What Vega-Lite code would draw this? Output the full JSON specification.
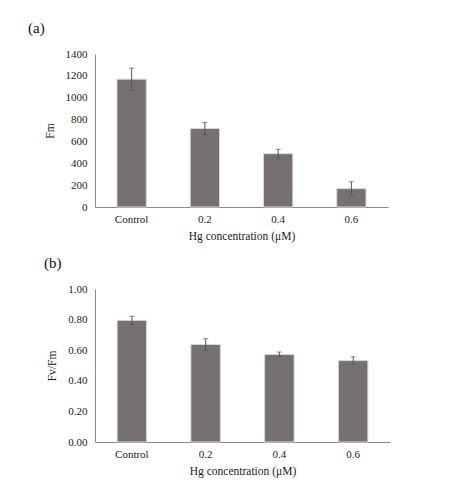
{
  "$schema": "https://vega.github.io/schema/vega-lite/v6.json",
  "padding": {"left": 28, "top": 21, "right": 5, "bottom": 5},
  "spacing": 14,
  "config": {
    "font": "Liberation Serif",
    "view": {"stroke": null},
    "axis": {
      "labelFont": "Liberation Serif",
      "titleFont": "Liberation Serif",
      "labelFontSize": 11,
      "titleFontSize": 11.5,
      "titleFontWeight": "normal",
      "labelColor": "#1a1a1a",
      "titleColor": "#1a1a1a",
      "domainColor": "#8a8a8a",
      "ticks": false,
      "grid": false,
      "labelOverlap": false
    },
    "title": {
      "font": "Liberation Serif",
      "fontSize": 15,
      "fontWeight": "normal",
      "color": "#111111",
      "anchor": "start",
      "frame": "group",
      "offset": 12
    }
  },
  "vconcat": [
    {
      "width": 293,
      "height": 153,
      "title": {"text": "(a)", "dx": -67},
      "data": {
        "values": [
          {"group": "Control", "value": 1170, "err": 100},
          {"group": "0.2", "value": 718, "err": 55},
          {"group": "0.4", "value": 488, "err": 40},
          {"group": "0.6", "value": 168, "err": 63}
        ]
      },
      "encoding": {
        "x": {
          "field": "group",
          "type": "nominal",
          "sort": ["Control", "0.2", "0.4", "0.6"],
          "scale": {"paddingInner": 0.6, "paddingOuter": 0.3},
          "axis": {"labelAngle": 0, "title": "Hg concentration (μM)", "labelPadding": 6, "titlePadding": 6}
        },
        "y": {
          "field": "value",
          "type": "quantitative",
          "scale": {"domain": [0, 1400]},
          "axis": {"title": "Fm", "values": [0, 200, 400, 600, 800, 1000, 1200, 1400], "format": "d", "labelPadding": 8, "titlePadding": 10}
        }
      },
      "layer": [
        {
          "mark": {"type": "bar", "color": "#767070", "stroke": "#d9d9d9", "strokeWidth": 1}
        },
        {
          "mark": {"type": "errorbar", "color": "#555555", "ticks": {"size": 5, "color": "#555555"}, "rule": {"strokeWidth": 1}},
          "encoding": {
            "yError": {"field": "err"}
          }
        }
      ]
    },
    {
      "width": 295,
      "height": 153,
      "title": {"text": "(b)", "dx": -51},
      "data": {
        "values": [
          {"group": "Control", "value": 0.795, "err": 0.027},
          {"group": "0.2", "value": 0.637, "err": 0.038},
          {"group": "0.4", "value": 0.572, "err": 0.016},
          {"group": "0.6", "value": 0.532, "err": 0.025}
        ]
      },
      "encoding": {
        "x": {
          "field": "group",
          "type": "nominal",
          "sort": ["Control", "0.2", "0.4", "0.6"],
          "scale": {"paddingInner": 0.6, "paddingOuter": 0.3},
          "axis": {"labelAngle": 0, "title": "Hg concentration (μM)", "labelPadding": 6, "titlePadding": 6}
        },
        "y": {
          "field": "value",
          "type": "quantitative",
          "scale": {"domain": [0, 1]},
          "axis": {"title": "Fv/Fm", "values": [0, 0.2, 0.4, 0.6, 0.8, 1], "format": ".2f", "labelPadding": 8, "titlePadding": 10}
        }
      },
      "layer": [
        {
          "mark": {"type": "bar", "color": "#767070", "stroke": "#d9d9d9", "strokeWidth": 1}
        },
        {
          "mark": {"type": "errorbar", "color": "#555555", "ticks": {"size": 5, "color": "#555555"}, "rule": {"strokeWidth": 1}},
          "encoding": {
            "yError": {"field": "err"}
          }
        }
      ]
    }
  ]
}
